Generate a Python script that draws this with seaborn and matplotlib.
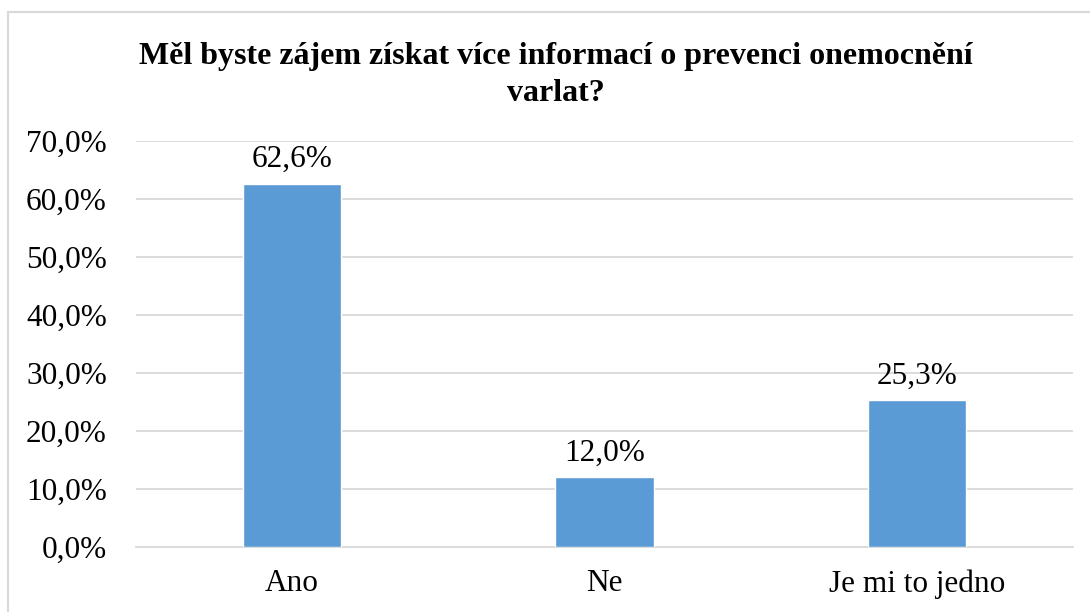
import pandas as pd
import seaborn as sns
import matplotlib.pyplot as plt
from matplotlib.lines import Line2D

# Data
categories = ["Ano", "Ne", "Je mi to jedno"]
values = [62.6, 12.0, 25.3]
title = "Měl byste zájem získat více informací o prevenci onemocnění\nvarlat?"

df = pd.DataFrame({"odpoved": categories, "podil": values})

sns.set_theme(style="white")
plt.rcParams["font.family"] = ["Liberation Serif", "DejaVu Serif"]
plt.rcParams["text.color"] = "black"

fig = plt.figure(figsize=(10.9, 6.12), dpi=100)
ax = fig.add_axes([136 / 1090, 1 - 547 / 612, 937 / 1090, 406 / 612])

sns.barplot(data=df, x="odpoved", y="podil", color="#5B9BD5",
            width=0.314, saturation=1, ax=ax, zorder=3)

ax.set_ylim(0, 70)
ax.set_yticks(range(0, 71, 10))
ax.set_yticklabels([f"{t},0%" for t in range(0, 71, 10)])
ax.yaxis.grid(True, color="#d9d9d9", linewidth=1.3, zorder=0)
ax.set_axisbelow(True)
ax.set_xlabel("")
ax.set_ylabel("")
ax.tick_params(axis="y", length=0, pad=21, labelsize=22.5, colors="black")
ax.tick_params(axis="x", length=0, pad=16, labelsize=22.5, colors="black")
for side in ["top", "right", "left"]:
    ax.spines[side].set_visible(False)
ax.spines["bottom"].set_color("#d9d9d9")
ax.spines["bottom"].set_linewidth(1.3)

# value labels above the bars
for i, v in enumerate(values):
    ax.annotate(f"{v:.1f}%".replace(".", ","), (i, v), xytext=(0, 7),
                textcoords="offset points", ha="center", va="bottom",
                fontsize=22.5, color="black")

fig.text(556 / 1090, 1 - 75 / 612, title, ha="center", va="center",
         fontsize=23, fontweight="bold", linespacing=1.35, color="black")

# chart border (light gray, cut off at right and bottom)
fig.add_artist(Line2D([8 / 1090, 8 / 1090], [0, 1 - 12 / 612],
                      color="#d9d9d9", linewidth=1.5, transform=fig.transFigure))
fig.add_artist(Line2D([8 / 1090, 1], [1 - 12 / 612, 1 - 12 / 612],
                      color="#d9d9d9", linewidth=1.5, transform=fig.transFigure))

fig.savefig("out.png", dpi=100, facecolor="white")
